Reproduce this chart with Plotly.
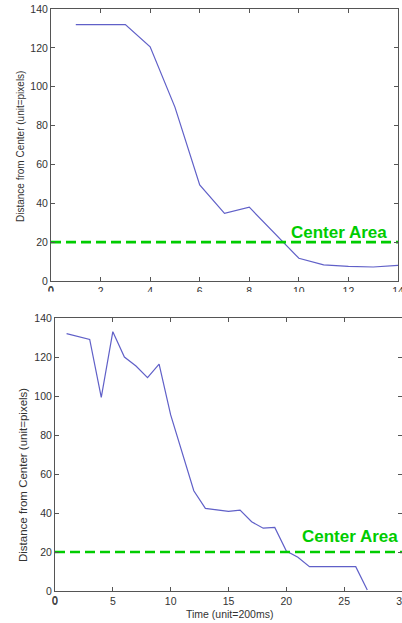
import plotly.graph_objects as go

# ---- data ----
top_time = [1, 2, 3, 4, 5, 6, 7, 8, 9, 10, 11, 12, 13, 14]
top_dist = [132, 132, 132, 120.5, 89.5, 49.5, 34.8, 38, 25, 11.7, 8.3, 7.5, 7.2, 8]

bot_time = [1, 3, 4, 5, 6, 7, 8, 9, 10, 11, 12, 13, 14, 15, 16, 17, 18, 19, 20, 21, 22, 23, 24, 25, 26, 27]
bot_dist = [132, 129, 99.3, 133, 120, 115.4, 109.4, 116.3, 90.3, 71, 51.4, 42.4, 41.7, 40.8, 41.5,
            35.5, 32.2, 32.6, 20.5, 17.3, 12.5, 12.5, 12.5, 12.5, 12.5, 0.5]

center_threshold = 20
center_label = "Center Area"
y_title = "Distance from Center (unit=pixels)"
x_title = "Time (unit=200ms)"
x_origin_label = "0"

W, H = 402, 623
def px(x):
    return x / W
def py(y):
    return 1 - y / H

BLUE = "rgb(96,96,200)"
GREEN = "rgb(0,204,0)"
AX = "#555555"
TXT = "#333333"
SANS = "Liberation Sans, Arial, sans-serif"

fig = go.Figure()
fig.add_trace(go.Scatter(x=top_time, y=top_dist, mode="lines",
                         line=dict(color=BLUE, width=1.2), xaxis="x", yaxis="y", showlegend=False))
fig.add_trace(go.Scatter(x=[0, 14], y=[center_threshold] * 2, mode="lines",
                         line=dict(color=GREEN, width=2.6, dash="10px,5px"),
                         xaxis="x", yaxis="y", showlegend=False))
fig.add_trace(go.Scatter(x=bot_time, y=bot_dist, mode="lines",
                         line=dict(color=BLUE, width=1.2), xaxis="x2", yaxis="y2", showlegend=False))
fig.add_trace(go.Scatter(x=[0, 30], y=[center_threshold] * 2, mode="lines",
                         line=dict(color=GREEN, width=2.6, dash="10px,5px"),
                         xaxis="x2", yaxis="y2", showlegend=False))

common = dict(showline=True, linecolor=AX, linewidth=1, mirror="ticks", ticks="inside",
              ticklen=4, tickcolor=AX, showgrid=False, zeroline=False, automargin=False,
              ticklabeloverflow="allow",
              tickfont=dict(family=SANS, size=10.5, color=TXT))

fig.update_layout(
    width=W, height=H,
    margin=dict(l=0, r=0, t=0, b=0),
    paper_bgcolor="white", plot_bgcolor="white",
    xaxis=dict(domain=[px(51), px(398)], range=[0, 14], dtick=2, anchor="y", **common),
    yaxis=dict(domain=[py(281), py(9)], range=[0, 140], dtick=20, anchor="x", **common),
    xaxis2=dict(domain=[px(55), 1.0], range=[0, 30], dtick=5, anchor="y2", **common),
    yaxis2=dict(domain=[py(591), py(318)], range=[0, 140], dtick=20, anchor="x2", **common),
    annotations=[
        dict(text=center_label, x=11.6, y=25, xref="x", yref="y", showarrow=False,
             xanchor="center", yanchor="middle",
             font=dict(family=SANS, size=17, color=GREEN, weight="bold")),
        dict(text=center_label, x=25.5, y=28.2, xref="x2", yref="y2", showarrow=False,
             xanchor="center", yanchor="middle",
             font=dict(family=SANS, size=17, color=GREEN, weight="bold")),
        dict(text=y_title, x=px(20), y=py(147), xref="paper", yref="paper", showarrow=False,
             textangle=-90, xanchor="center", yanchor="middle",
             font=dict(family=SANS, size=10, color=TXT)),
        dict(text=y_title, x=px(23), y=py(475), xref="paper", yref="paper", showarrow=False,
             textangle=-90, xanchor="center", yanchor="middle",
             font=dict(family=SANS, size=11.5, color=TXT)),
        dict(text=x_title, x=px(229), y=py(613.5), xref="paper", yref="paper", showarrow=False,
             xanchor="center", yanchor="middle",
             font=dict(family=SANS, size=10.5, color=TXT)),
        dict(text=x_origin_label, x=0, y=py(290.5), xref="x", yref="paper", showarrow=False,
             xanchor="center", yanchor="middle",
             font=dict(family=SANS, size=10.5, color=TXT)),
        dict(text=x_origin_label, x=0, y=py(600), xref="x2", yref="paper", showarrow=False,
             xanchor="center", yanchor="middle",
             font=dict(family=SANS, size=10.5, color=TXT)),
        # white cover so the top panel's origin label is cut like the other tick labels
        dict(text=" ", x=px(51), y=py(301.5), xref="paper", yref="paper", showarrow=False,
             xanchor="center", yanchor="middle", width=40, height=19, borderpad=0,
             bgcolor="white", font=dict(size=1)),
    ],
    shapes=[
        dict(type="rect", xref="paper", yref="paper", x0=0, x1=1, y0=py(311), y1=py(292),
             fillcolor="white", line=dict(width=0), layer="above"),
    ],
)

fig.write_html("out.html", config={"displayModeBar": False},
               post_script="document.body.style.margin='0';document.body.style.overflow='hidden';")
